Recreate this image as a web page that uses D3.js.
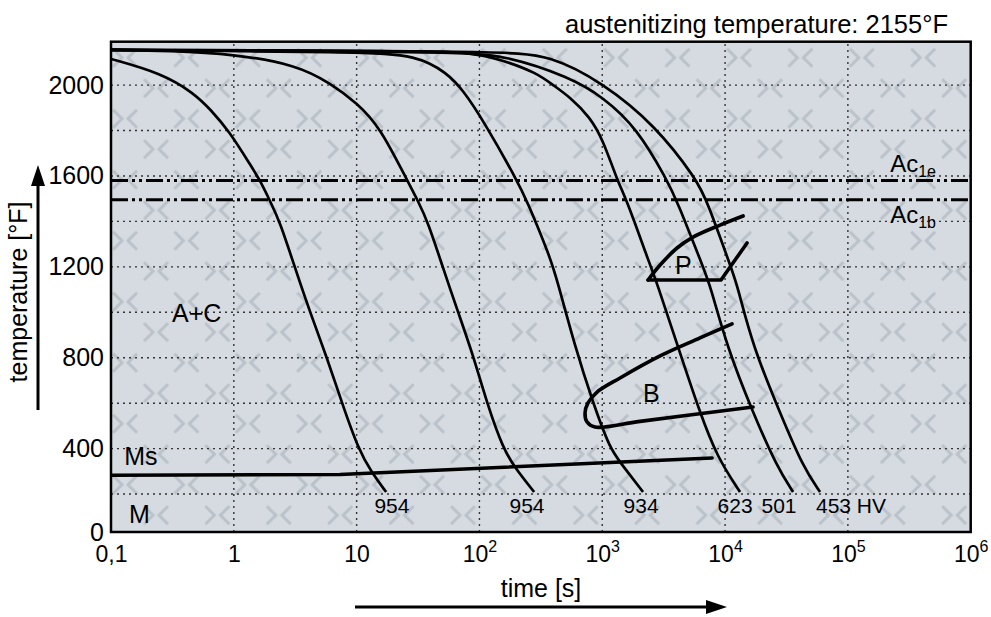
<!DOCTYPE html>
<html>
  <head>
    <meta charset="utf-8">
    <title>CCT diagram</title>
    <script src="https://d3js.org/d3.v7.min.js"></script>
    <style>
      body { margin: 0; background: #fff; }
      svg { display: block; font-family: "Liberation Sans", Arial, sans-serif; }
      .grid line { stroke: #333; stroke-width: 1.4; stroke-dasharray: 2 4; }
      .cooling { fill: none; stroke: #000; stroke-width: 2.7; }
      .field { fill: none; stroke: #000; stroke-width: 3.6; stroke-linecap: round; stroke-linejoin: round; }
      .ac { stroke: #000; stroke-width: 3; stroke-dasharray: 17 4 3 4 3 4; }
      .tick text { fill: #000; font-family: "Liberation Sans", Arial, sans-serif; }
      .label { fill: #000; }
    </style>
  </head>
  <body>
    <svg id="chart" width="991" height="617"></svg>
    <script>
      // axis values
      const timeTicks = [0.1, 1, 10, 100, 1e3, 1e4, 1e5, 1e6];
      const gridTimes = [1, 10, 100, 1e3, 1e4, 1e5];
      const tempTicks = [0, 400, 800, 1200, 1600, 2000];
      const gridTemps = [200, 400, 600, 800, 1000, 1200, 1400, 1600, 1800, 2000];
      const tempRange = [33, 2191];
      const ac1e = 1580;
      const ac1b = 1495;
      // cooling curves [time s, temp °F]
      const curve1 = [[0.1, 2115], [0.255, 2053], [0.474, 1965], [0.652, 1890], [0.914, 1798], [1.38, 1644], [1.63, 1582], [1.97, 1490], [2.38, 1397], [3.15, 1195], [4.17, 1001], [5.74, 799], [7.6, 601], [10.3, 399], [13.3, 293], [17.4, 209]];
      const curve2 = [[0.1, 2155], [0.3, 2151], [1.0, 2137], [3.27, 2088], [6.07, 2009], [10.1, 1921], [15.5, 1815], [25.7, 1582], [31.6, 1490], [38.1, 1397], [50.5, 1195], [67, 1001], [90.3, 799], [115, 601], [156, 399], [195, 315], [279, 209]];
      const curve3 = [[0.1, 2155], [10.7, 2145], [31, 2132], [54.5, 2053], [73.5, 1978], [107, 1846], [202, 1582], [244, 1490], [376, 1243], [429, 1142], [601, 847], [841, 601], [1158, 399], [1396, 341], [2148, 209]];
      const curve4 = [[0.1, 2155], [32.8, 2150], [83.8, 2145], [156, 2110], [294, 2053], [397, 2000], [547, 1947], [795, 1859], [1016, 1758], [1321, 1582], [1592, 1490], [2317, 1243], [2794, 1129], [4140, 847], [6252, 557], [8610, 363], [13240, 209]];
      const curve5 = [[0.1, 2155], [69.5, 2145], [156, 2132], [547, 2035], [1016, 1947], [1920, 1811], [3370, 1582], [4064, 1490], [6622, 1199], [7551, 1120], [10380, 847], [16900, 557], [26500, 319], [35800, 209]];
      const curve6 = [[0.1, 2155], [147, 2150], [376, 2132], [1016, 2009], [2692, 1824], [5916, 1582], [7130, 1490], [11610, 1173], [12530, 1120], [16900, 847], [28050, 557], [43150, 319], [59300, 209]];
      const hardness = ["954", "954", "934", "623", "501", "453 HV"];
      const hardnessTimes = [19.4, 244, 2070, 12060, 27500, 106000];
      const hardnessTemp = 117;
      // transformation fields
      const msLine = [[0.1, 283], [7.3, 286], [7840, 359]];
      const pUpper = [[2360, 1142], [2958, 1208], [4064, 1283], [5485, 1331], [9100, 1384], [14020, 1424]];
      const pLower = [[2360, 1142], [9270, 1142], [10990, 1199], [15100, 1305]];
      const bField = [[11400, 949], [6252, 887], [2958, 808], [1396, 711], [907, 649], [766, 601], [724, 557], [752, 517], [873, 495], [2032, 520], [16900, 583]];
      // text annotations [text, time, temp]
      const areaLabels = [["A+C", 0.314, 957], ["Ms", 0.128, 328], ["M", 0.14, 73], ["P", 3917, 1169], ["B", 2148, 605]];
      const acLabels = [["1e", 220800, 1617], ["1b", 220800, 1393]];

      const svg = d3.select("#chart");
      const x = d3.scaleLog().domain([0.1, 1e6]).range([111, 970.7]);
      const y = d3.scaleLinear().domain(tempRange).range([532, 41.7]);

      // background with chevron motifs
      const defs = svg.append("defs");
      const pat = defs.append("pattern")
        .attr("id", "chev")
        .attr("patternUnits", "userSpaceOnUse")
        .attr("x", x.range()[0]).attr("y", y.range()[1])
        .attr("width", 61.4).attr("height", 61);
      [[14, 16], [45, 46.5]].forEach(function(c) {
        pat.append("path")
          .attr("d", "M" + (c[0] - 12) + "," + (c[1] - 9) + "L" + (c[0] - 3) + "," + c[1] + "L" + (c[0] - 12) + "," + (c[1] + 9)
            + "M" + (c[0] + 12) + "," + (c[1] - 9) + "L" + (c[0] + 3) + "," + c[1] + "L" + (c[0] + 12) + "," + (c[1] + 9))
          .attr("fill", "none")
          .attr("stroke", "#bac1c8")
          .attr("stroke-width", 3);
      });
      defs.append("clipPath").attr("id", "clip")
        .append("rect")
        .attr("x", x.range()[0]).attr("y", y.range()[1])
        .attr("width", x.range()[1] - x.range()[0]).attr("height", y.range()[0] - y.range()[1]);

      const plotW = x.range()[1] - x.range()[0];
      const plotH = y.range()[0] - y.range()[1];
      svg.append("rect")
        .attr("x", x.range()[0]).attr("y", y.range()[1])
        .attr("width", plotW).attr("height", plotH)
        .attr("fill", "#d5dbe1");
      svg.append("rect")
        .attr("x", x.range()[0]).attr("y", y.range()[1])
        .attr("width", plotW).attr("height", plotH)
        .attr("fill", "url(#chev)");

      // dotted grid
      const grid = svg.append("g").attr("class", "grid");
      grid.selectAll(".gx").data(gridTimes).enter().append("line")
        .attr("x1", d => x(d)).attr("x2", d => x(d))
        .attr("y1", y.range()[0]).attr("y2", y.range()[1]);
      grid.selectAll(".gy").data(gridTemps).enter().append("line")
        .attr("y1", d => y(d)).attr("y2", d => y(d))
        .attr("x1", x.range()[0]).attr("x2", x.range()[1]);

      const plot = svg.append("g").attr("clip-path", "url(#clip)");

      // Ac lines
      plot.selectAll(".ac").data([ac1e, ac1b]).enter().append("line")
        .attr("class", "ac")
        .attr("x1", x.range()[0]).attr("x2", x.range()[1])
        .attr("y1", d => y(d)).attr("y2", d => y(d));

      // cooling curves
      const coolLine = d3.line()
        .x(d => x(d[0])).y(d => y(d[1]))
        .curve(d3.curveBasis);
      plot.selectAll(".cooling").data([curve1, curve2, curve3, curve4, curve5, curve6]).enter().append("path")
        .attr("class", "cooling")
        .attr("d", coolLine);

      // transformation fields
      const fieldLine = d3.line()
        .x(d => x(d[0])).y(d => y(d[1]))
        .curve(d3.curveCatmullRom.alpha(0.5));
      plot.append("path").attr("class", "field").attr("d", fieldLine(pUpper));
      plot.append("path").attr("class", "field").attr("d", fieldLine(bField));
      fieldLine.curve(d3.curveLinear);
      plot.append("path").attr("class", "field").attr("d", fieldLine(pLower));
      plot.append("path").attr("class", "field").attr("d", fieldLine(msLine));

      // labels
      svg.selectAll(".area").data(areaLabels).enter().append("text")
        .attr("class", "label")
        .attr("x", d => x(d[1])).attr("y", d => y(d[2]))
        .style("font-size", "25px")
        .text(d => d[0]);
      svg.selectAll(".hv").data(hardness).enter().append("text")
        .attr("class", "label")
        .attr("x", (d, i) => x(hardnessTimes[i])).attr("y", y(hardnessTemp))
        .attr("text-anchor", "middle")
        .style("font-size", "21px")
        .text(d => d);
      acLabels.forEach(function(a) {
        const t = svg.append("text").attr("class", "label")
          .attr("x", x(a[1])).attr("y", y(a[2]))
          .style("font-size", "24px")
          .text("Ac");
        t.append("tspan").attr("dy", 5).style("font-size", "16px").text(a[0]);
      });

      // axes
      const xAxis = d3.axisBottom(x)
        .tickValues(timeTicks)
        .tickSize(0)
        .tickPadding(14)
        .tickFormat("");
      const xg = svg.append("g")
        .attr("transform", "translate(0," + y.range()[0] + ")")
        .call(xAxis);
      xg.select(".domain").remove();
      xg.selectAll(".tick text")
        .style("font-size", "23px")
        .each(function(d) {
          const t = d3.select(this);
          const e = Math.round(Math.log10(d));
          if (d < 1) t.text("0,1");
          else if (e === 0) t.text("1");
          else if (e === 1) t.text("10");
          else {
            t.text("10");
            t.append("tspan").attr("dy", -10).style("font-size", "16px").text(e);
          }
        });

      const yAxis = d3.axisLeft(y)
        .tickValues(tempTicks.map(d => Math.max(d, tempRange[0])))
        .tickSize(0)
        .tickPadding(7)
        .tickFormat(d => d === tempRange[0] ? "0" : d);
      const yg = svg.append("g")
        .attr("transform", "translate(" + x.range()[0] + ",0)")
        .call(yAxis);
      yg.select(".domain").remove();
      yg.selectAll(".tick text").style("font-size", "25px");

      // frame
      svg.append("rect")
        .attr("x", x.range()[0]).attr("y", y.range()[1])
        .attr("width", plotW).attr("height", plotH)
        .attr("fill", "none").attr("stroke", "#000").attr("stroke-width", 2.5);

      // titles and arrows
      svg.append("text")
        .attr("x", 948).attr("y", 33)
        .attr("text-anchor", "end")
        .style("font-size", "25.5px")
        .text("austenitizing temperature: 2155°F");
      svg.append("text")
        .attr("x", 541).attr("y", 597)
        .attr("text-anchor", "middle")
        .style("font-size", "25px")
        .text("time [s]");
      svg.append("text")
        .attr("transform", "translate(27,292) rotate(-90)")
        .attr("text-anchor", "middle")
        .style("font-size", "25px")
        .text("temperature [°F]");
      svg.append("line")
        .attr("x1", 355).attr("x2", 710).attr("y1", 607).attr("y2", 607)
        .attr("stroke", "#000").attr("stroke-width", 3);
      svg.append("path")
        .attr("d", "M727,607L706,600L706,614Z");
      svg.append("line")
        .attr("x1", 38).attr("x2", 38).attr("y1", 410).attr("y2", 182)
        .attr("stroke", "#000").attr("stroke-width", 3);
      svg.append("path")
        .attr("d", "M38,165L31,186L45,186Z");
    </script>
  </body>
</html>
